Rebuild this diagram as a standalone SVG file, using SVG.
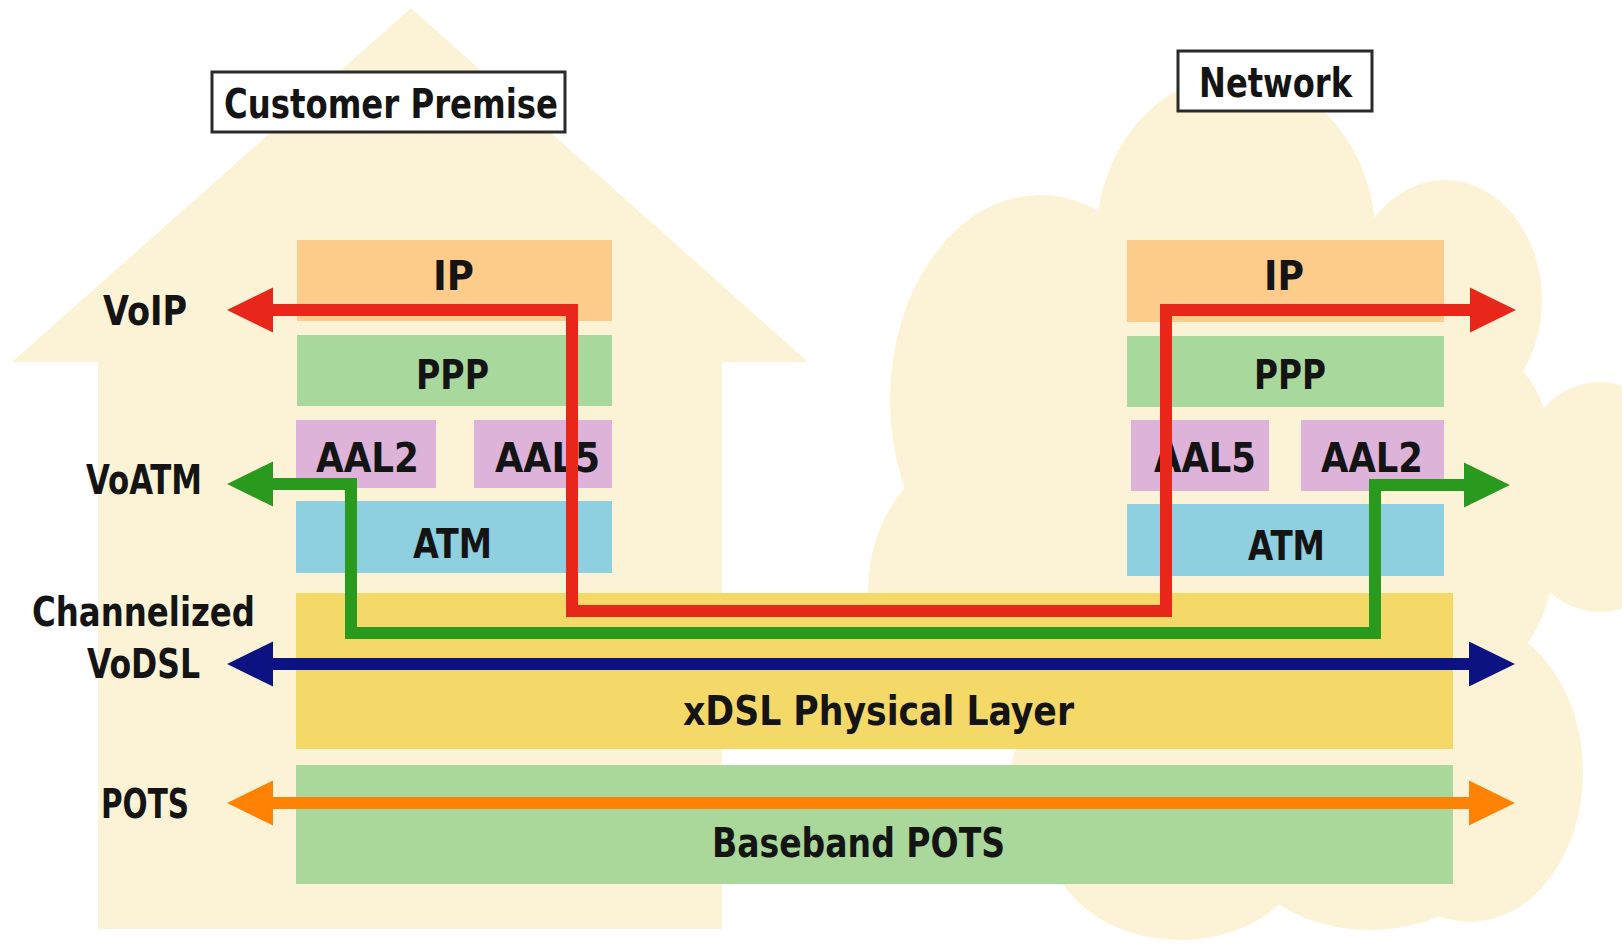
<svg xmlns="http://www.w3.org/2000/svg" width="1622" height="946" viewBox="0 0 1622 946">
<style>
.bg{fill:#FCF3D6}
.ip{fill:#FECC8A}
.ppp{fill:#A8D89C}
.aal{fill:#DDB3D9}
.atm{fill:#8ECFE0}
.xdsl{fill:#F4D968}
.pots{fill:#A9D89A}
.frame{fill:#FFFFFF;stroke:#2A2A2A;stroke-width:3}
text{font-family:"DejaVu Sans Condensed","DejaVu Sans","Liberation Sans",sans-serif;font-weight:bold;font-size:40px;fill:#141414;font-stretch:condensed}
.conn{fill:none;stroke-width:12;stroke-linejoin:miter}
</style>
<defs>
<marker id="hRed" markerUnits="userSpaceOnUse" markerWidth="46" markerHeight="46" viewBox="0 0 45 44" refX="2" refY="22" orient="auto-start-reverse"><path d="M0,0 L45,22 L0,44 z" fill="#E8261A"/></marker>
<marker id="hGreen" markerUnits="userSpaceOnUse" markerWidth="46" markerHeight="46" viewBox="0 0 45 44" refX="2" refY="22" orient="auto-start-reverse"><path d="M0,0 L45,22 L0,44 z" fill="#2A9A1E"/></marker>
<marker id="hBlue" markerUnits="userSpaceOnUse" markerWidth="46" markerHeight="46" viewBox="0 0 45 44" refX="2" refY="22" orient="auto-start-reverse"><path d="M0,0 L45,22 L0,44 z" fill="#0C1282"/></marker>
<marker id="hOrange" markerUnits="userSpaceOnUse" markerWidth="46" markerHeight="46" viewBox="0 0 45 44" refX="2" refY="22" orient="auto-start-reverse"><path d="M0,0 L45,22 L0,44 z" fill="#FF8205"/></marker>
</defs>
<rect width="1622" height="946" fill="#FFFFFF"/>

<g id="house">
<polygon class="bg" points="411,8 808,362 722,362 722,929 98,929 98,362 12,362"/>
</g>

<g id="cloud">
<ellipse class="bg" cx="1236" cy="240" rx="140" ry="165"/>
<ellipse class="bg" cx="1040" cy="400" rx="150" ry="205"/>
<ellipse class="bg" cx="1005" cy="590" rx="137" ry="150"/>
<ellipse class="bg" cx="1130" cy="780" rx="120" ry="100"/>
<ellipse class="bg" cx="1180" cy="840" rx="130" ry="100"/>
<ellipse class="bg" cx="1370" cy="825" rx="140" ry="105"/>
<ellipse class="bg" cx="1470" cy="772" rx="113" ry="150"/>
<ellipse class="bg" cx="1445" cy="300" rx="97" ry="120"/>
<ellipse class="bg" cx="1600" cy="497" rx="90" ry="115"/>
<ellipse class="bg" cx="1500" cy="510" rx="60" ry="150"/>
<rect class="bg" x="1080" y="230" width="410" height="630"/>
</g>

<g id="customer-premise">
<rect class="frame" x="212" y="72" width="353" height="60"/>
<text x="224" y="118" textLength="334" lengthAdjust="spacingAndGlyphs">Customer Premise</text>
</g>
<g id="network">
<rect class="frame" x="1178" y="51" width="194" height="60"/>
<text x="1199" y="97" textLength="153" lengthAdjust="spacingAndGlyphs">Network</text>
</g>

<g id="ip-left"><rect class="ip" x="297" y="240" width="315" height="81"/><text x="433" y="290" textLength="41" lengthAdjust="spacingAndGlyphs">IP</text></g>
<g id="ppp-left"><rect class="ppp" x="297" y="335" width="315" height="71"/><text x="416" y="389" textLength="73" lengthAdjust="spacingAndGlyphs">PPP</text></g>
<g id="aal2-left"><rect class="aal" x="296" y="420" width="140" height="68"/><text x="316" y="472" textLength="103" lengthAdjust="spacingAndGlyphs">AAL2</text></g>
<g id="aal5-left"><rect class="aal" x="474" y="420" width="138" height="68"/><text x="495" y="472" textLength="105" lengthAdjust="spacingAndGlyphs">AAL5</text></g>
<g id="atm-left"><rect class="atm" x="296" y="501" width="316" height="72"/><text x="413" y="558" textLength="79" lengthAdjust="spacingAndGlyphs">ATM</text></g>

<g id="ip-right"><rect class="ip" x="1127" y="240" width="317" height="82"/><text x="1264" y="290" textLength="40" lengthAdjust="spacingAndGlyphs">IP</text></g>
<g id="ppp-right"><rect class="ppp" x="1127" y="336" width="317" height="71"/><text x="1254" y="389" textLength="72" lengthAdjust="spacingAndGlyphs">PPP</text></g>
<g id="aal5-right"><rect class="aal" x="1131" y="420" width="138" height="71"/><text x="1154" y="472" textLength="102" lengthAdjust="spacingAndGlyphs">AAL5</text></g>
<g id="aal2-right"><rect class="aal" x="1301" y="420" width="143" height="71"/><text x="1321" y="472" textLength="102" lengthAdjust="spacingAndGlyphs">AAL2</text></g>
<g id="atm-right"><rect class="atm" x="1127" y="504" width="317" height="72"/><text x="1248" y="560" textLength="77" lengthAdjust="spacingAndGlyphs">ATM</text></g>

<g id="xdsl"><rect class="xdsl" x="296" y="593" width="1157" height="156"/><text x="683" y="725" textLength="391" lengthAdjust="spacingAndGlyphs">xDSL Physical Layer</text></g>
<g id="baseband"><rect class="pots" x="296" y="765" width="1157" height="119"/><text x="712" y="857" textLength="293" lengthAdjust="spacingAndGlyphs">Baseband POTS</text></g>

<g id="labels">
<text x="103" y="325" textLength="84" lengthAdjust="spacingAndGlyphs">VoIP</text>
<text x="86" y="494" textLength="116" lengthAdjust="spacingAndGlyphs">VoATM</text>
<text x="32" y="626" textLength="223" lengthAdjust="spacingAndGlyphs">Channelized</text>
<text x="87" y="678" textLength="113" lengthAdjust="spacingAndGlyphs">VoDSL</text>
<text x="101" y="818" textLength="88" lengthAdjust="spacingAndGlyphs">POTS</text>
</g>

<g id="connectors">
<path class="conn" stroke="#E8261A" d="M271,310 H572 V611 H1166 V310 H1472" marker-start="url(#hRed)" marker-end="url(#hRed)"/>
<path class="conn" stroke="#2A9A1E" d="M271,484 H351 V633 H1375 V485 H1466" marker-start="url(#hGreen)" marker-end="url(#hGreen)"/>
<path class="conn" stroke="#0C1282" d="M271,664 H1471" marker-start="url(#hBlue)" marker-end="url(#hBlue)"/>
<path class="conn" stroke="#FF8205" d="M271,803 H1471" marker-start="url(#hOrange)" marker-end="url(#hOrange)"/>
</g>
</svg>
